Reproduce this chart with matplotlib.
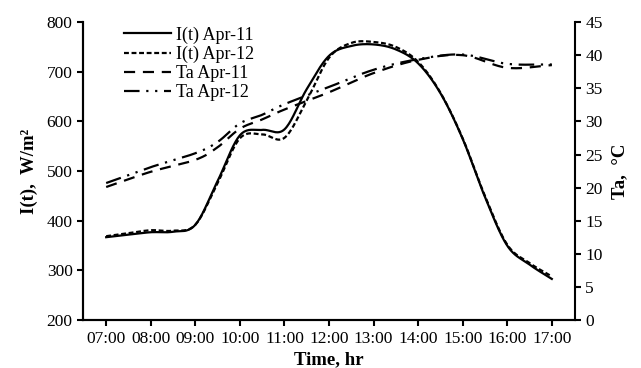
"""
Solar irradiance I(t) and ambient temperature Ta, Apr-11 / Apr-12
"""

import numpy as np
import matplotlib.pyplot as plt
from matplotlib.lines import Line2D

plt.rcParams["font.family"] = ["Liberation Serif", "DejaVu Serif"]

# half-hourly irradiance, W/m2
hours_i = [7, 7.5, 8, 8.5, 9, 9.5, 10, 10.5, 11, 11.5, 12,
           12.5, 13, 13.5, 14, 14.5, 15, 15.5, 16, 16.5, 17]
irr_apr11 = [367, 372, 377, 378, 392, 480, 572, 583, 584, 665, 732,
             752, 755, 745, 717, 657, 565, 448, 350, 312, 283]
irr_apr12 = [369, 375, 381, 380, 392, 476, 566, 574, 567, 642, 728,
             758, 760, 750, 720, 658, 566, 450, 352, 315, 288]

# ambient temperature, degC
hours_t = [7, 8, 9, 9.5, 10, 10.5, 11, 12, 13, 14, 15, 16, 17]
ta_apr11 = [20.1, 22.4, 24.2, 26.1, 28.9, 30.3, 31.8, 34.4, 37.3, 39.3, 40.0, 38.1, 38.5]
ta_apr12 = [20.7, 23.1, 25.2, 26.9, 29.7, 31.0, 32.6, 35.2, 37.8, 39.4, 40.1, 38.7, 38.6]

tick_hours = list(range(7, 18))
tick_labels = ["%02d:00" % h for h in tick_hours]


def smooth(x, y, n=20):
    """Catmull-Rom curve through the points, like a spreadsheet smoothed line"""
    x = np.asarray(x, float)
    y = np.asarray(y, float)
    px = np.concatenate(([2 * x[0] - x[1]], x, [2 * x[-1] - x[-2]]))
    py = np.concatenate(([2 * y[0] - y[1]], y, [2 * y[-1] - y[-2]]))
    t = np.linspace(0, 1, n, endpoint=False)
    xs, ys = [], []
    for i in range(1, len(px) - 2):
        for p, out in ((px, xs), (py, ys)):
            p0, p1, p2, p3 = p[i - 1], p[i], p[i + 1], p[i + 2]
            out.append(0.5 * (2 * p1 + (-p0 + p2) * t
                              + (2 * p0 - 5 * p1 + 4 * p2 - p3) * t ** 2
                              + (-p0 + 3 * p1 - 3 * p2 + p3) * t ** 3))
    xs.append([x[-1]])
    ys.append([y[-1]])
    return np.concatenate(xs), np.concatenate(ys)


styles = {
    "I(t) Apr-11": dict(linestyle="-"),
    "I(t) Apr-12": dict(linestyle=(0, (2.2, 1.2))),
    "Ta Apr-11": dict(linestyle=(0, (5, 3.5))),
    "Ta Apr-12": dict(linestyle=(0, (7, 3, 1, 3, 1, 3))),
}

fig = plt.figure(figsize=(6.41, 3.68), dpi=100)
ax = fig.add_axes([0.1295, 0.130, 0.7675, 0.810])
ax2 = ax.twinx()

lw = 1.6
ax.plot(*smooth(hours_i, irr_apr11), color="black", lw=lw, **styles["I(t) Apr-11"])
ax.plot(*smooth(hours_i, irr_apr12), color="black", lw=lw, **styles["I(t) Apr-12"])
ax2.plot(*smooth(hours_t, ta_apr11), color="black", lw=lw, **styles["Ta Apr-11"])
ax2.plot(*smooth(hours_t, ta_apr12), color="black", lw=lw, **styles["Ta Apr-12"])

ax.set_xlim(6.48, 17.52)
ax.set_ylim(200, 800)
ax2.set_ylim(0, 45)
ax.set_xticks(tick_hours)
ax.set_xticklabels(tick_labels)
ax.set_yticks(range(200, 801, 100))
ax2.set_yticks(range(0, 46, 5))

for a in (ax, ax2):
    a.spines["top"].set_visible(False)
    for s in a.spines.values():
        s.set_linewidth(1.5)
    a.tick_params(labelsize=12.5, width=1.5, length=4, direction="out")
ax.spines["right"].set_visible(False)

ax.set_xlabel("Time, hr", fontsize=13.5, fontweight="bold", labelpad=3)
ax.set_ylabel("I(t),  W/m²", fontsize=13.5, fontweight="bold", labelpad=6)
ax2.set_ylabel("Ta,  °C", fontsize=13.5, fontweight="bold", labelpad=6)

handles = [Line2D([], [], color="black", lw=lw, **st) for st in styles.values()]
ax.legend(handles, list(styles.keys()), loc="upper left",
          bbox_to_anchor=(0.068, 1.01), frameon=False, fontsize=13,
          handlelength=2.6, handletextpad=0.3, labelspacing=0.12,
          borderaxespad=0)

fig.savefig("out.png", dpi=100)
